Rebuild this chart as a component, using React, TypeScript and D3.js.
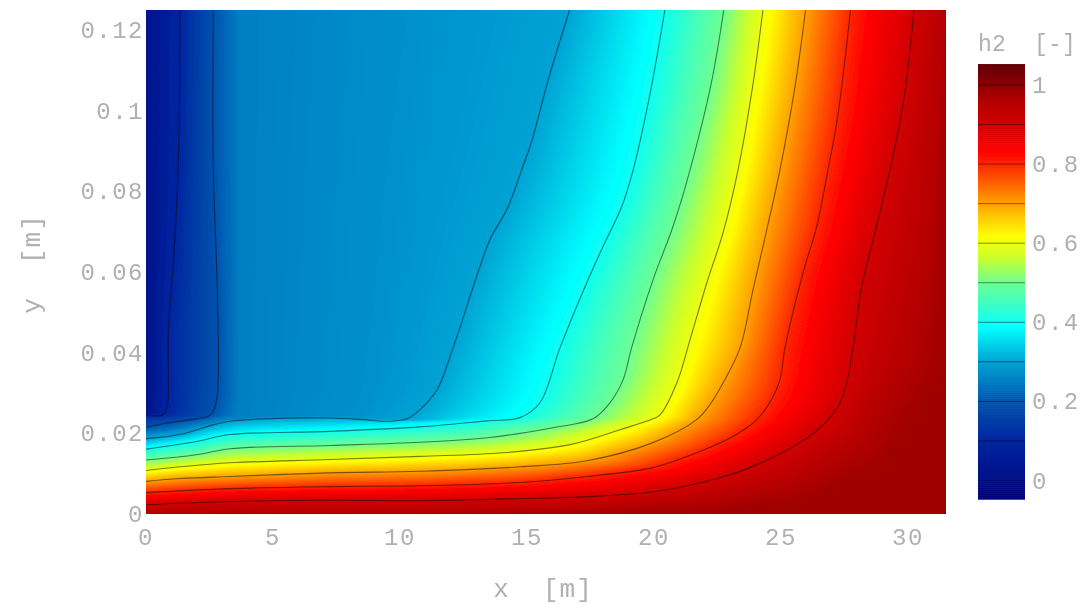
import React from "react";
import * as d3 from "d3";

type P = [number, number];

// Isolines read from the picture: [x in m, y in m], from the top edge to the left edge.
const iso01: P[] = [[1.34,.125],[1.27,.0861],[1.07,.0613],[.88,.0457],[.88,.0333],[.84,.0267],[.68,.0246],[0,.0245]];
const iso02: P[] = [[2.65,.125],[2.65,.0861],[2.78,.0613],[2.84,.0457],[2.84,.0333],[2.80,.0292],[2.65,.0254],[2.44,.0242],[2.00,.0236],[.67,.0224],[0,.0215]];
const iso03: P[] = [[16.68,.125],[15.83,.1075],[15.18,.0923],[14.79,.0853],[14.25,.0761],[13.54,.068],[13.02,.0589],[12.09,.0412],[11.46,.0308],[10.79,.0259],[10.28,.0236],[9.61,.0230],[8.54,.0234],[7.24,.0238],[4.61,.0236],[3.31,.0230],[2.64,.0221],[1.34,.0197],[0,.0187]];
const iso04: P[] = [[20.43,.125],[19.84,.104],[19.18,.0853],[18.73,.0762],[17.99,.0663],[17.35,.0573],[16.3,.0412],[15.51,.0276],[14.72,.0239],[13.43,.0231],[10.79,.0216],[7.24,.0205],[3.31,.0197],[1.99,.018],[0,.0161]];
const iso05: P[] = [[22.75,.125],[22.25,.1066],[21.42,.0853],[20.75,.0713],[19.96,.058],[19.12,.0412],[18.78,.0332],[18.27,.0276],[17.6,.0236],[16.02,.0214],[13.43,.0189],[10.79,.0178],[7.24,.017],[3.31,.0162],[1.99,.0147],[0,.0134]];
const iso06: P[] = [[24.29,.125],[23.9,.1066],[23.31,.0853],[22.72,.0697],[22.08,.0573],[21.42,.0432],[20.9,.0325],[20.24,.0246],[19.96,.0236],[18.66,.0209],[16.69,.0172],[14.06,.0152],[10.79,.0143],[7.24,.0135],[3.31,.0127],[1.34,.0117],[0,.0108]];
const iso07: P[] = [[25.97,.125],[25.57,.1066],[24.96,.0853],[24.44,.0704],[23.9,.0556],[23.39,.0412],[22.72,.0325],[22.2,.0271],[21.68,.0234],[19.96,.0177],[17.36,.0132],[14.72,.0117],[10.79,.0106],[7.24,.0102],[3.31,.0093],[1.34,.0088],[0,.0081]];
const iso08: P[] = [[27.74,.125],[27.23,.0983],[26.85,.0853],[26.41,.0713],[25.87,.0598],[25.16,.0412],[24.96,.0332],[24.63,.0284],[24.05,.0234],[23.11,.0192],[21.81,.0155],[19.96,.0115],[17.36,.0093],[14.72,.0078],[10.79,.007],[7.24,.0068],[3.31,.0063],[0,.0053]];
const iso09: P[] = [[30.24,.125],[29.83,.1025],[29.29,.0853],[28.63,.068],[28.18,.0564],[27.84,.0412],[27.59,.0325],[27.32,.0276],[26.8,.023],[25.75,.0177],[23.78,.0115],[22.6,.009],[19.96,.0055],[17.36,.0043],[14.72,.0038],[10.79,.0033],[7.24,.0034],[3.31,.0031],[0,.0023]];

// Unlabelled shade levels between the isolines, read from the colours.
const shade002: P[] = [[0,.125],[0,.03],[0,.0255],[0,.025]];
const shade025: P[] = [[3.7,.125],[3.7,.06],[3.7,.03],[3.6,.0245],[2,.0222],[1,.0207],[0,.0201]];
const shade0275: P[] = [[11,.125],[10,.08],[9.5,.05],[9,.03],[8.5,.0245],[7.2,.0243],[4.6,.024],[3.3,.0234],[2,.0215],[0,.0194]];
const shade0955: P[] = [[31.5,.125],[30.87,.0656],[29.88,.0383],[28.1,.0184],[25.75,.0085],[22.6,.0036],[17.5,.0011],[10.8,.0003],[0,0]];
const shade0985: P[] = [[31.5,.125],[31.5,.035],[29,.011],[25.75,.0025],[21.8,0],[0,0]];

const levels = [.02,.1,.2,.25,.275,.3,.4,.5,.6,.7,.8,.9,.955,.985];
const curves = [shade002,iso01,iso02,shade025,shade0275,iso03,iso04,iso05,iso06,iso07,iso08,iso09,shade0955,shade0985];
const cornerIndex = [2,6,7,3,4,10,8,8,7,8,8,8,3,2];
const isolines = [iso01,iso02,iso03,iso04,iso05,iso06,iso07,iso08,iso09];

const barLevels = [0,.1,.2,.3,.4,.5,.6,.7,.8,.9,1];
const colorLevels = [-.05,0,.1,.2,.25,.275,.3,.385,.45,.5,.56,.617,.7,.83,.9,.955,.985,1,1.055];
const colorValues = ["#000078","#000e88","#0026a0","#0054ae","#0080c4","#0092cc","#00a4d4","#00ffff","#40ffc0","#70ff90","#c8ff30","#ffff00","#ffa000","#ff0000","#d00000","#b40000","#9e0000","#8a0005","#5e0005"];

const xTicks = [0,5,10,15,20,25,30];
const yTicks = [0,.02,.04,.06,.08,.1,.12];
const barTicks = [0,.2,.4,.6,.8,1];

const x = d3.scaleLinear().domain([0,31.5]).range([146,946]);
const y = d3.scaleLinear().domain([0,.125]).range([514,10]);
const bar = d3.scaleLinear().domain([0,1]).range([480.5,85]);
const color = d3.scaleLinear<string>().domain(colorLevels).range(colorValues).interpolate(d3.interpolateRgb).clamp(true);

const toPx = (p: P): P => [x(p[0]), y(p[1])];

function resample(pts: P[], n: number): P[] {
  const d = [0];
  for (let i = 1; i < pts.length; i++) d.push(d[i-1] + Math.hypot(pts[i][0]-pts[i-1][0], pts[i][1]-pts[i-1][1]));
  const L = d[d.length-1];
  const out: P[] = [];
  for (let k = 0; k <= n; k++) {
    const t = L * k / n;
    let i = 1;
    while (i < pts.length-1 && d[i] < t) i++;
    const s = d[i] === d[i-1] ? 0 : (t-d[i-1])/(d[i]-d[i-1]);
    out.push([pts[i-1][0]+(pts[i][0]-pts[i-1][0])*s, pts[i-1][1]+(pts[i][1]-pts[i-1][1])*s]);
  }
  return out;
}

const sampled = curves.map((c, i) => {
  const px = c.map(toPx);
  return [...resample(px.slice(0, cornerIndex[i]+1), 50), ...resample(px.slice(cornerIndex[i]), 50).slice(1)];
});

const fillLevels = d3.range(.02, .98501, .0025);
const linePath = d3.line();
const bands = fillLevels.map(l => {
  const j = Math.min(d3.bisectRight(levels, l) - 1, levels.length-2);
  const s = (l-levels[j])/(levels[j+1]-levels[j]);
  const a = sampled[j], b = sampled[j+1];
  const pts: P[] = a.map((p,i) => [p[0]+(b[i][0]-p[0])*s, p[1]+(b[i][1]-p[1])*s]);
  pts.push([x(0),y(0)],[x(31.5),y(0)],[x(31.5),y(.125)]);
  return { l, d: linePath(pts)! + "Z" };
});

const smooth = d3.line<P>().x(p => x(p[0])).y(p => y(p[1])).curve(d3.curveCatmullRom.alpha(0.5));
const barSteps = d3.range(-.047, 1.053, .005);

const grey = "#b0b0b0";
const font = "'Liberation Mono', monospace";

export default function App() {
  return (
    <svg width={1085} height={605} style={{position:"absolute",left:0,top:0,background:"#fff"}} fontFamily={font} fill={grey}>
      <defs>
        <clipPath id="plot"><rect x={146} y={10} width={800} height={504}/></clipPath>
        <filter id="soft" x="-2%" y="-2%" width="104%" height="104%"><feGaussianBlur stdDeviation={0.6}/></filter>
        <filter id="softText" x="-5%" y="-5%" width="110%" height="110%"><feGaussianBlur stdDeviation={0.35}/></filter>
      </defs>
      <g clipPath="url(#plot)">
        <g filter="url(#soft)">
          <rect x={140} y={4} width={812} height={516} fill={color(.02)}/>
          {bands.map(b => <path key={b.l} d={b.d} fill={color(b.l)}/>)}
          {isolines.map((c,i) => <path key={i} d={smooth(c)!} fill="none" stroke="#000" strokeOpacity={.5} strokeWidth={1.1}/>)}
        </g>
      </g>
      <g filter="url(#softText)">
        {xTicks.map(t => <text key={t} x={x(t)} y={545} textAnchor="middle" fontSize={24} letterSpacing={1.5}>{t}</text>)}
        {yTicks.map(t => <text key={t} x={144} y={y(t)+8} textAnchor="end" fontSize={24} letterSpacing={1.5}>{t}</text>)}
        <text x={543} y={597} textAnchor="middle" fontSize={26} letterSpacing={1}>{"x\u00a0\u00a0[m]"}</text>
        <text transform={`translate(40,264) rotate(-90)`} textAnchor="middle" fontSize={26} letterSpacing={1}>{"y\u00a0\u00a0[m]"}</text>
        {barTicks.map(t => <text key={t} x={1032} y={bar(t)+8} fontSize={24} letterSpacing={1.5}>{t}</text>)}
        <text x={978} y={51} fontSize={23} letterSpacing={.2}>{"h2\u00a0\u00a0[-]"}</text>
      </g>
      {barSteps.map(v => <rect key={v} x={978} y={bar(v+.005)} width={47} height={bar(v)-bar(v+.005)+.6} fill={color(v)}/>)}
      {barLevels.map(v => <line key={v} x1={978} x2={1025} y1={bar(v)} y2={bar(v)} stroke="#000" strokeOpacity={v===0?.12:.45} strokeWidth={1}/>)}
    </svg>
  );
}
